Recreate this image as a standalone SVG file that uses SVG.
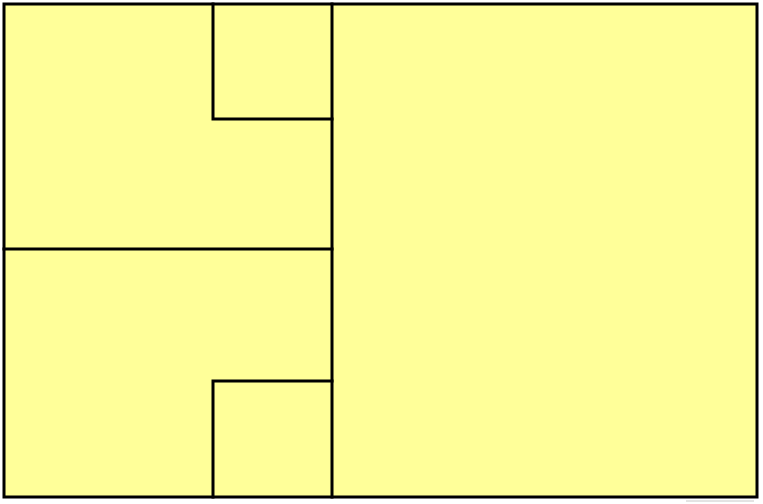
<svg xmlns="http://www.w3.org/2000/svg" width="763" height="504" viewBox="0 0 763 504">
<style>
.wall{fill:none;stroke:#000;stroke-width:3;stroke-linecap:square;stroke-linejoin:miter}
.room{fill:#FFFF99;stroke:none}
</style>
<rect width="763" height="504" fill="#fff"/>
<g id="plan">
<rect class="room" x="4" y="4" width="753" height="493"/>
<rect class="wall" x="4" y="4" width="753" height="493"/>
<line class="wall" x1="332" y1="4" x2="332" y2="497"/>
<line class="wall" x1="4" y1="249" x2="332" y2="249"/>
<polyline class="wall" points="213,4 213,119 332,119"/>
<polyline class="wall" points="332,381 213,381 213,497"/>
<line x1="686" y1="501" x2="754" y2="501" stroke="#c8c8c8" stroke-width="1"/>
</g>
</svg>
